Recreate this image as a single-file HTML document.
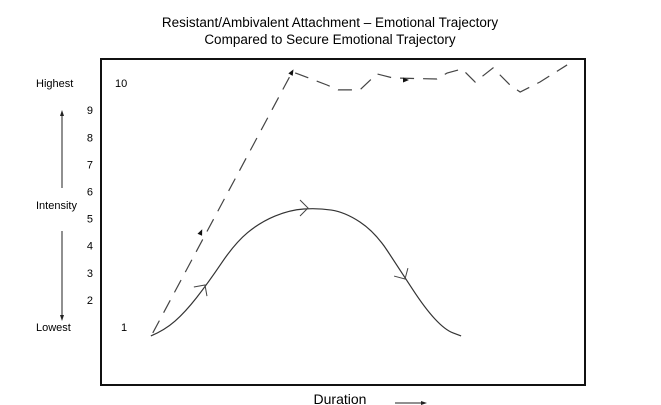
<!DOCTYPE html>
<html><head><meta charset="utf-8"><style>
body{margin:0;background:#fff;}
svg{display:block;font-family:"Liberation Sans",sans-serif;}
</style></head><body>
<svg id="c" width="661" height="405" viewBox="0 0 661 405">
<text x="330" y="27" text-anchor="middle" font-size="13.5">Resistant/Ambivalent Attachment – Emotional Trajectory</text>
<text x="330" y="44" text-anchor="middle" font-size="13.5">Compared to Secure Emotional Trajectory</text>
<rect x="101" y="59" width="484" height="326" fill="none" stroke="#111" stroke-width="2"/>
<text x="36" y="87" font-size="11">Highest</text>
<text x="36" y="331" font-size="11">Lowest</text>
<text x="36" y="209" font-size="11">Intensity</text>
<line x1="62" y1="114" x2="62" y2="188" stroke="#222"/>
<polygon points="62,110 60,116 64,116" fill="#222"/>
<line x1="62" y1="231" x2="62" y2="317" stroke="#222"/>
<polygon points="62,321 60,315 64,315" fill="#222"/>
<text x="340" y="404" text-anchor="middle" font-size="14">Duration</text>
<line x1="395" y1="403" x2="422" y2="403" stroke="#222"/>
<polygon points="427,403 421,401 421,405" fill="#222"/>
<g id="ticks"></g>
<g id="series"></g>
</svg>
<script>
const yTicks=[1,2,3,4,5,6,7,8,9,10];
const secureX=[10.3,13.2,17.4,22.1,27.7,32.9,39.0,44.8,50.4,56.6,61.8,66.9,71.1,74.4];
const secureY=[0.67,0.89,1.55,2.62,4.10,4.87,5.32,5.39,5.24,4.51,3.10,1.70,0.89,0.67];
const resistX=[10.7,39.5,40.7,46.7,49.0,53.5,57.0,60.3,69.4,71.5,74.6,77.3,81.0,84.5,86.6,90.7,96.3];
const resistY=[0.78,10.41,10.34,9.93,9.75,9.75,10.34,10.19,10.15,10.37,10.52,10.04,10.56,9.93,9.67,10.04,10.67];
const NS='http://www.w3.org/2000/svg';
function sx(v){return 101+v*4.84;}
function sy(v){return 327-(v-1)*27.1;}
const tg=document.getElementById('ticks');
yTicks.forEach(t=>{
  const e=document.createElementNS(NS,'text');
  e.setAttribute('x',t===10?115:t===1?121:93);
  e.setAttribute('y',sy(t)+4);
  e.setAttribute('font-size','11');
  e.setAttribute('text-anchor',t===10||t===1?'start':'end');
  e.textContent=t;
  
  
  tg.appendChild(e);
});
const sg=document.getElementById('series');
function path(xs,ys){
  let d='M'+sx(xs[0])+','+sy(ys[0]);
  for(let i=1;i<xs.length-1;i++){
    const mx=(sx(xs[i])+sx(xs[i+1]))/2,my=(sy(ys[i])+sy(ys[i+1]))/2;
    d+=' Q'+sx(xs[i])+','+sy(ys[i])+' '+mx+','+my;
  }
  d+=' L'+sx(xs[xs.length-1])+','+sy(ys[ys.length-1]);
  return d;
}
const p1=document.createElementNS(NS,'path');
p1.setAttribute('d',path(secureX,secureY));
p1.setAttribute('fill','none');p1.setAttribute('stroke','#333');p1.setAttribute('stroke-width','1.2');


sg.appendChild(p1);
let d2='M'+resistX.map((x,i)=>sx(x)+','+sy(resistY[i])).join(' L');
const p2=document.createElementNS(NS,'path');
p2.setAttribute('d',d2);
p2.setAttribute('fill','none');p2.setAttribute('stroke','#444');p2.setAttribute('stroke-width','1.2');
p2.setAttribute('stroke-dasharray','14 9');


sg.appendChild(p2);
// direction chevrons on solid curve
[[205,285,-55],[308,208,0],[405,279,60]].forEach(c=>{
  const g=document.createElementNS(NS,'path');
  g.setAttribute('d','M-8,-8 L0,0 L-8,8');
  g.setAttribute('transform','translate('+c[0]+','+c[1]+') rotate('+c[2]+')');
  g.setAttribute('fill','none');g.setAttribute('stroke','#444');
  
  
  sg.appendChild(g);
});
// arrowheads on dashed
[[201,232,-66],[292,72,-60],[406,80,0]].forEach(c=>{
  const g=document.createElementNS(NS,'polygon');
  g.setAttribute('points','3,0 -3,-2.5 -3,2.5');
  g.setAttribute('transform','translate('+c[0]+','+c[1]+') rotate('+c[2]+')');
  g.setAttribute('fill','#111');
  
  
  sg.appendChild(g);
});
</script>
</body></html>
